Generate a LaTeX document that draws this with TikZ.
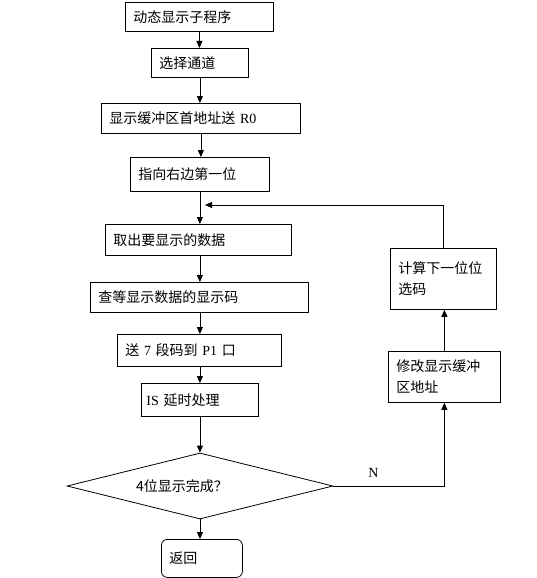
\documentclass[tikz,border=0pt]{standalone}
\usepackage{fontspec}
\setmainfont{Liberation Serif}
\newfontfamily\cjk{Noto Sans CJK SC}
\newcommand{\zh}[1]{{\cjk #1}}
\usetikzlibrary{shapes.geometric, arrows.meta, positioning}

\begin{document}
\begin{tikzpicture}[
    x=1pt, y=-1pt,
    font=\fontsize{14}{21}\selectfont,
    block/.style={rectangle, draw, line width=0.8pt, anchor=north west, align=left, inner xsep=8pt, inner ysep=0pt},
    decision/.style={diamond, draw, line width=0.8pt, minimum width=266pt, minimum height=66pt, inner sep=0pt},
    ending/.style={block, rounded corners=6pt},
    line/.style={draw, line width=0.8pt, -{Triangle[length=7pt, width=6pt]}}
]
\useasboundingbox (0,0) rectangle (537,578);

% main column
\node [block, text width=132pt, minimum height=29pt] (start) at (125,2) {\zh{动态显示子程序}};
\node [block, text width=81pt, minimum height=29pt] (chan) at (151,48) {\zh{选择通道}};
\node [block, text width=183pt, minimum height=30pt] (buf) at (101,103) {\zh{显示缓冲区首地址送} R0};
\node [block, text width=123pt, minimum height=34pt] (first) at (130,157) {\zh{指向右边第一位}};
\node [block, text width=170pt, minimum height=31pt] (fetch) at (105,224) {\zh{取出要显示的数据}};
\node [block, text width=202pt, minimum height=30pt] (lookup) at (90,282) {\zh{查等显示数据的显示码}};
\node [block, text width=148pt, minimum height=32pt] (send) at (117,334) {\zh{送} 7 \zh{段码到} P1 \zh{口}};
\node [block, text width=107pt, minimum height=33pt, inner xsep=5pt] (delay) at (141,383) {IS \zh{延时处理}};
\node [decision, label={[xshift=-18pt]center:\zh{4位显示完成？}}] (done) at (200,486) {};
\node [ending, text width=65pt, minimum height=38pt] (ret) at (161,539) {\zh{返回}};

% loop back
\node [block, text width=96pt, minimum height=51pt] (modify) at (388,351) {\zh{修改显示缓冲}\\\zh{区地址}};
\node [block, text width=90pt, minimum height=61pt] (nextbit) at (390,248) {\zh{计算下一位位}\\\zh{选码}};
\coordinate (join) at (205,205);

\path [line] (start.south) -- (start.south |- chan.north);
\path [line] (chan.south) -- (chan.south |- buf.north);
\path [line] (buf.south) -- (buf.south |- first.north);
\path [line] (first.south) -- (first.south |- fetch.north);
\path [line] (first.south |- fetch.south) -- (first.south |- lookup.north);
\path [line] (first.south |- lookup.south) -- (first.south |- send.north);
\path [line] (first.south |- send.south) -- (first.south |- delay.north);
\path [line] (first.south |- delay.south) -- (first.south |- done.north);
\path [line] (done.south) -- (done.south |- ret.north);
\path [line] (done.east) -| node[pos=0.18, above=5pt] {N} (modify.south);
\path [line] (modify.north) -- (modify.north |- nextbit.south);
\path [line] (nextbit.north) |- (join);

\end{tikzpicture}
\end{document}
